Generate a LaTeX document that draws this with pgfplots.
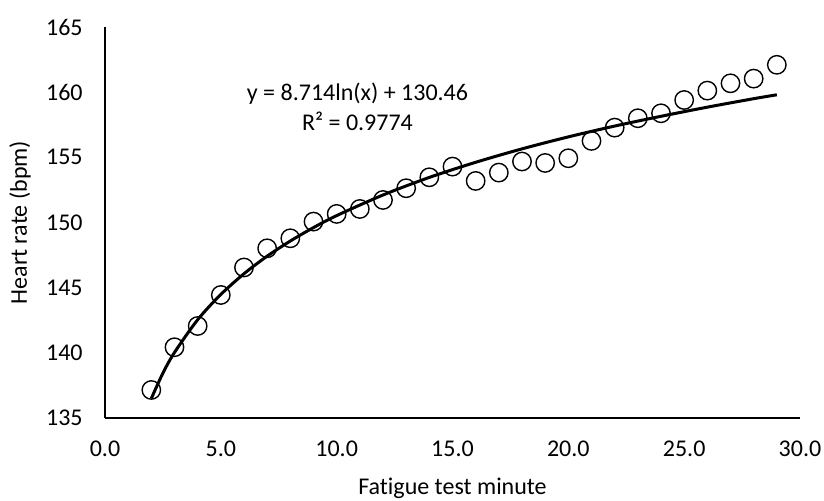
\documentclass[border=0pt]{standalone}
\usepackage{fontspec}
\setmainfont{Carlito}[Ligatures={NoCommon,NoContextual}]
\usepackage{pgfplots}
\pgfplotsset{compat=1.18}
\begin{document}
\fontsize{12pt}{14pt}\selectfont
\begin{tikzpicture}
\path[use as bounding box] (-52.5pt,-41pt) rectangle (359.5pt,209pt);
\begin{axis}[
  scale only axis,
  width=347.5pt, height=195.5pt,
  xmin=0, xmax=30, ymin=135, ymax=165,
  xtick={0,5,...,30}, ytick={135,140,...,165},
  axis x line=bottom, axis y line=left,
  axis line style={-, line width=0.9pt, black},
  major tick length=0pt,
  /pgf/number format/assume math mode=true,
  xticklabel={\pgfmathprintnumber[fixed,fixed zerofill,precision=1]{\tick}},
  yticklabel={\pgfmathprintnumber[fixed,precision=0]{\tick}},
  ticklabel style={font=\fontsize{12pt}{14pt}\selectfont},
  xticklabel style={yshift=-7.5pt},
  yticklabel style={xshift=-7pt},
  xlabel={Fatigue test minute},
  ylabel={Heart rate (bpm)},
  label style={font=\fontsize{13.3pt}{15pt}\selectfont},
  every axis x label/.style={at={(axis description cs:0.5,0)}, anchor=center, yshift=-35pt},
  every axis y label/.style={at={(axis description cs:-0.1223,0.5)}, anchor=center, rotate=90},
  clip=false,
]
\addplot[black, line width=1.5pt, smooth] coordinates {
 (2,136.50) (2.5,138.445) (3,140.03) (4,142.54) (5,144.48) (6,146.07) (7,147.42)
 (8,148.58) (9,149.61) (10,150.53) (12,152.11) (14,153.46) (16,154.62) (18,155.65)
 (20,156.57) (22,157.40) (24,158.15) (26,158.85) (28,159.50) (29,159.80)
};
\addplot[only marks, mark=o, mark size=4.6pt, mark options={line width=0.7pt, black}] coordinates {
 (2,137.15) (3,140.43) (4,142.06) (5,144.44) (6,146.55) (7,148.02) (8,148.79)
 (9,150.07) (10,150.66) (11,151.04) (12,151.73) (13,152.63) (14,153.47) (15,154.29)
 (16,153.19) (17,153.83) (18,154.68) (19,154.57) (20,154.93) (21,156.26) (22,157.28)
 (23,158.0) (24,158.38) (25,159.4) (26,160.12) (27,160.68) (28,161.04) (29,162.1)
};
\node[align=center, font=\fontsize{12pt}{15pt}\selectfont, inner sep=0pt] at (axis cs:10.9,158.85) {y = 8.714ln(x) + 130.46\\R² = 0.9774};
\end{axis}
\end{tikzpicture}
\end{document}
